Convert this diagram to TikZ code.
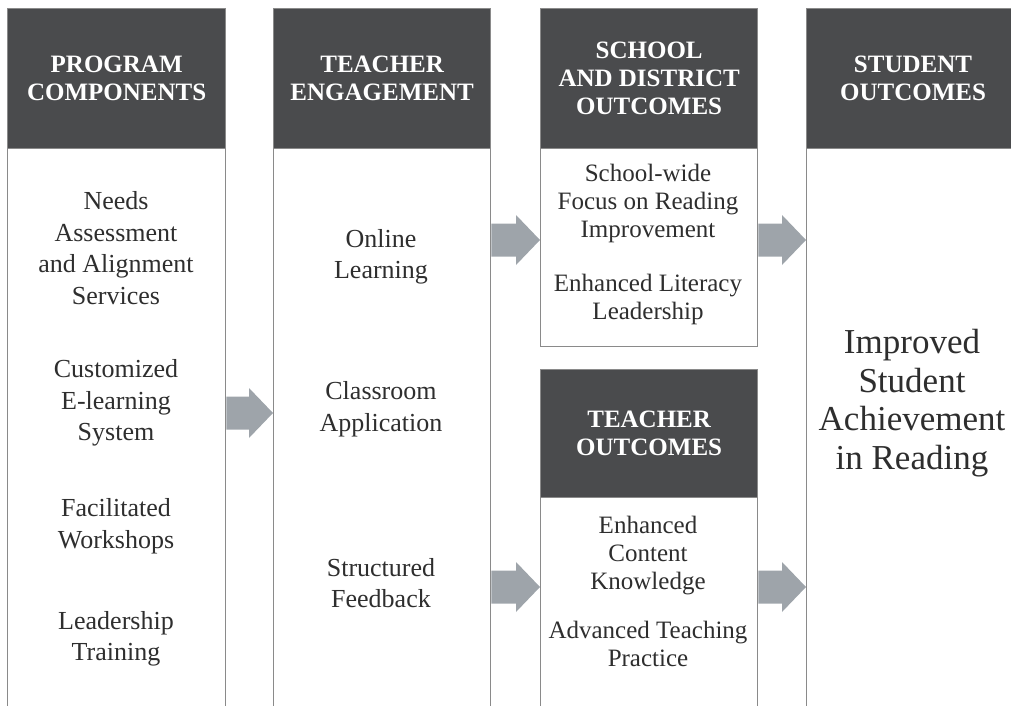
\documentclass[tikz,border=0pt]{standalone}
\usepackage{fontspec}
\setmainfont{Liberation Serif}
\usetikzlibrary{calc}
\definecolor{headfill}{HTML}{4A4B4D}
\definecolor{rulegray}{HTML}{8A8A8A}
\definecolor{arrowgray}{HTML}{9EA4AA}
\definecolor{inkgray}{HTML}{2E2E2E}
\tikzset{
  colbox/.style={draw=rulegray, line width=1.3pt, fill=white, inner sep=0pt, anchor=north west},
  headbox/.style={fill=headfill, draw=rulegray, line width=1.3pt, inner sep=0pt, anchor=north west},
  headtext/.style={text=white, align=center, font=\fontsize{25}{28}\selectfont\bfseries},
  bodytext/.style={text=inkgray, align=center, font=\fontsize{26}{31.5}\selectfont},
  smalltext/.style={text=inkgray, align=center, font=\fontsize{25}{28}\selectfont},
  bigtext/.style={text=inkgray, align=center, font=\fontsize{35}{38.5}\selectfont},
  blockfill/.style={fill=arrowgray, draw=none}
}
% block arrow from #1 to #2 (both on one horizontal line)
\newcommand\blockarrow[2]{%
  \fill[blockfill] ($(#1)+(0,-16.5)$) -- ($(#2)+(-24,-16.5)$) -- ($(#2)+(-24,-25)$)
    -- (#2) -- ($(#2)+(-24,25)$) -- ($(#2)+(-24,16.5)$) -- ($(#1)+(0,16.5)$) -- cycle;}
\begin{document}
\begin{tikzpicture}[x=1pt, y=-1pt]
\useasboundingbox (0,0) rectangle (1011,706);
\clip (0,0) rectangle (1011,706);

% columns
\node[colbox, minimum width=218, minimum height=712] (c1) at (7,8) {};
\node[colbox, minimum width=217, minimum height=712] (c2) at (273,8) {};
\node[colbox, minimum width=217, minimum height=338] (c3a) at (540,8) {};
\node[colbox, minimum width=217, minimum height=351] (c3b) at (540,369) {};
\node[colbox, minimum width=230, minimum height=712] (c4) at (806,8) {};

% header bands
\node[headbox, minimum width=218, minimum height=140] (h1) at (7,8) {};
\node[headbox, minimum width=217, minimum height=140] (h2) at (273,8) {};
\node[headbox, minimum width=217, minimum height=140] (h3) at (540,8) {};
\node[headbox, minimum width=217, minimum height=128] (h4) at (540,369) {};
\node[headbox, minimum width=230, minimum height=140] (h5) at (806,8) {};

\node[headtext] (t1) at (h1.center) {PROGRAM\\COMPONENTS};
\node[headtext] (t2) at (h2.center) {TEACHER\\ENGAGEMENT};
\node[headtext] (t3) at (h3.center) {SCHOOL\\AND DISTRICT\\OUTCOMES};
\node[headtext] (t4) at (h4.center) {TEACHER\\OUTCOMES};
\node[headtext] (t5) at (913,78) {STUDENT\\OUTCOMES};

% program components
\node[bodytext] (p1) at (116,248) {Needs\\Assessment\\and Alignment\\Services};
\node[bodytext] (p2) at (116,403) {Customized\\E-learning\\System};
\node[bodytext] (p3) at (116,526) {Facilitated\\Workshops};
\node[bodytext] (p4) at (116,639) {Leadership\\Training};

% teacher engagement
\node[bodytext] (e1) at (381,257) {Online\\Learning};
\node[bodytext] (e2) at (381,409) {Classroom\\Application};
\node[bodytext] (e3) at (381,583) {Structured\\Feedback};

% school and district outcomes
\node[smalltext] (s1) at (648,203) {School-wide\\Focus on Reading\\Improvement};
\node[smalltext] (s2) at (648,299) {Enhanced Literacy\\Leadership};

% teacher outcomes
\node[smalltext] (o1) at (648,556) {Enhanced\\Content\\Knowledge};
\node[smalltext] (o2) at (648,644) {Advanced Teaching\\Practice};

% student outcomes
\node[bigtext] (r1) at (912,403) {Improved\\Student\\Achievement\\in Reading};

% flow arrows
\coordinate (a1s) at (c1.east |- 0,413);  \coordinate (a1t) at (c2.west |- 0,413);
\coordinate (a2s) at (c2.east |- 0,240);  \coordinate (a2t) at (c3a.west |- 0,240);
\coordinate (a3s) at (c2.east |- 0,587);  \coordinate (a3t) at (c3b.west |- 0,587);
\coordinate (a4s) at (c3a.east |- 0,240); \coordinate (a4t) at (c4.west |- 0,240);
\coordinate (a5s) at (c3b.east |- 0,587); \coordinate (a5t) at (c4.west |- 0,587);
\blockarrow{a1s}{a1t}
\blockarrow{a2s}{a2t}
\blockarrow{a3s}{a3t}
\blockarrow{a4s}{a4t}
\blockarrow{a5s}{a5t}
\end{tikzpicture}
\end{document}
